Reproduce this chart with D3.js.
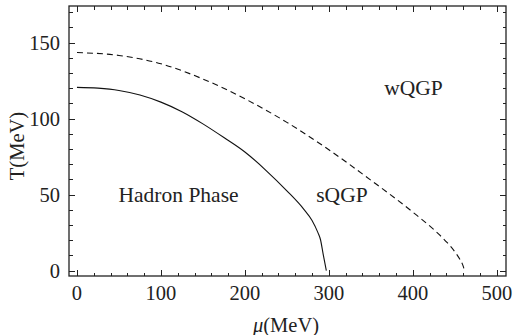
<!DOCTYPE html>
<meta charset="utf-8">
<head>
	<title>Phase diagram</title>
	<script type="text/javascript" src="https://d3js.org/d3.v7.min.js"></script>
	<style>
		body { margin: 0; background: #fff; }
		text { font-family: "Liberation Serif", "Times New Roman", serif; fill: #222; }
		.tick line { shape-rendering: crispEdges; }
	</style>
</head>
<body>
	<div id="chart"></div>
	<script>
		// data: (mu, T) in MeV
		var hadronLine = [[0,120.5],[25,120],[50,118.5],[75,115.5],[100,110.8],[125,104.5],[150,96.5],
			[175,87.5],[200,78],[225,66],[250,52.5],[270,40.5],[280,33],[287,25],[290,20.5],[293.5,10],[297,0]];
		var qgpLine = [[0,143.4],[50,141.5],[100,136],[150,126],[200,113],[250,97.5],[300,79.5],
			[350,59.5],[400,38.5],[425,27],[440,19],[450,12.5],[456,7.5],[460,3],[461.5,0]];
		var xTicks = [0, 100, 200, 300, 400, 500];
		var yTicks = [0, 50, 100, 150];
		var regionNames = ["Hadron Phase", "sQGP", "wQGP"];
		var regionSpots = [[49.5,45.4], [285,45.4], [366,115.5]];

		var w = 513, h = 335;
		var margin = {top: 6, right: 7, bottom: 59, left: 69};

		var svg = d3.select("#chart").append("svg")
			.attr("width", w).attr("height", h);

		var x = d3.scaleLinear().domain([-9.5, 511]).range([margin.left, w - margin.right]);
		var y = d3.scaleLinear().domain([-3.5, 174]).range([h - margin.bottom, margin.top]);

		var frameColor = "#222";
		var xMinor = d3.range(0, 511, 20).filter(function(d){ return d % 100 != 0; });
		var yMinor = d3.range(0, 174, 10).filter(function(d){ return d % 50 != 0; });

		// ticks on all four sides, pointing inward
		function xAxisG(ticks, len, bottom) {
			var ax = bottom ? d3.axisBottom(x) : d3.axisTop(x);
			return ax.tickValues(ticks).tickSizeInner(-len).tickSizeOuter(0).tickFormat("");
		}
		function yAxisG(ticks, len, left) {
			var ax = left ? d3.axisLeft(y) : d3.axisRight(y);
			return ax.tickValues(ticks).tickSizeInner(-len).tickSizeOuter(0).tickFormat("");
		}
		var by = h - margin.bottom, ty = margin.top, lx = margin.left, rx = w - margin.right;
		var axes = [
			[xAxisG(xTicks, 6, true), "translate(0," + by + ")"],
			[xAxisG(xMinor, 3.5, true), "translate(0," + by + ")"],
			[xAxisG(xTicks, 6, false), "translate(0," + ty + ")"],
			[xAxisG(xMinor, 3.5, false), "translate(0," + ty + ")"],
			[yAxisG(yTicks, 6, true), "translate(" + lx + ",0)"],
			[yAxisG(yMinor, 3.5, true), "translate(" + lx + ",0)"],
			[yAxisG(yTicks, 6, false), "translate(" + rx + ",0)"],
			[yAxisG(yMinor, 3.5, false), "translate(" + rx + ",0)"]
		];
		axes.forEach(function(a) {
			var g = svg.append("g").attr("transform", a[1]).call(a[0]);
			g.select(".domain").remove();
			g.selectAll("line").attr("stroke", frameColor).attr("stroke-width", 1);
		});

		svg.append("rect")
			.attr("x", lx).attr("y", ty)
			.attr("width", rx - lx).attr("height", by - ty)
			.attr("fill", "none").attr("stroke", frameColor).attr("stroke-width", 1.3);

		// tick labels
		svg.selectAll(".xlab").data(xTicks).enter().append("text")
			.attr("class", "xlab")
			.attr("x", function(d){ return x(d); })
			.attr("y", 299.5)
			.attr("text-anchor", "middle")
			.style("font-size", "20.5px")
			.text(function(d){ return d; });

		svg.selectAll(".ylab").data(yTicks).enter().append("text")
			.attr("class", "ylab")
			.attr("x", 60)
			.attr("y", function(d){ return y(d) + 7; })
			.attr("text-anchor", "end")
			.style("font-size", "20.5px")
			.text(function(d){ return d; });

		// axis titles
		var xt = svg.append("text")
			.attr("x", 286).attr("y", 332)
			.attr("text-anchor", "middle")
			.style("font-size", "20.5px");
		xt.append("tspan").style("font-style", "italic").text("\u03bc");
		xt.append("tspan").text("(MeV)");

		svg.append("text")
			.attr("transform", "translate(24,146) rotate(-90)")
			.attr("text-anchor", "middle")
			.style("font-size", "20.5px")
			.text("T(MeV)");

		// phase boundaries
		var line = d3.line()
			.x(function(d){ return x(d[0]); })
			.y(function(d){ return y(d[1]); })
			.curve(d3.curveMonotoneX);

		svg.append("path").datum(hadronLine)
			.attr("d", line)
			.attr("fill", "none").attr("stroke", "#111").attr("stroke-width", 1.1);

		svg.append("path").datum(qgpLine)
			.attr("d", line)
			.attr("fill", "none").attr("stroke", "#111").attr("stroke-width", 1.1)
			.attr("stroke-dasharray", "6,4");

		// region labels
		svg.selectAll(".region").data(regionNames).enter().append("text")
			.attr("class", "region")
			.attr("x", function(d, i){ return x(regionSpots[i][0]); })
			.attr("y", function(d, i){ return y(regionSpots[i][1]); })
			.style("font-size", "21.5px")
			.text(function(d){ return d; });
	</script>
</body>
</html>
